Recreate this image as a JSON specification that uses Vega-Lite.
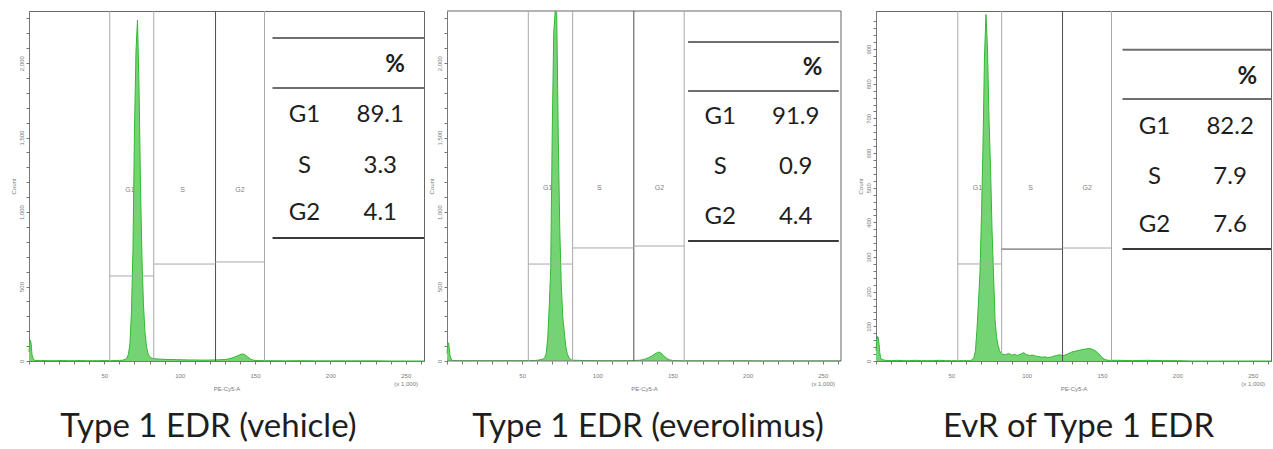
{
  "$schema": "https://vega.github.io/schema/vega-lite/v6.json",
  "autosize": {"type": "pad"},
  "padding": {"left": 9, "top": 9, "right": 0, "bottom": 0},
  "background": "white",
  "spacing": 23,
  "bounds": "flush",
  "config": {
    "view": {"stroke": "#666666", "strokeWidth": 1},
    "axis": {
      "grid": false,
      "labelFont": "Liberation Sans",
      "labelFontSize": 6,
      "labelColor": "#7a7a7a",
      "titleFont": "Liberation Sans",
      "titleFontSize": 6,
      "titleFontWeight": "normal",
      "titleColor": "#7a7a7a",
      "tickColor": "#777777",
      "domainColor": "#777777",
      "tickSize": 3,
      "tickCount": 200,
      "labelFlush": false,
      "labelOverlap": false
    }
  },
  "datasets": {
    "h1": [
      {"x":0,"count":60},{"x":0.5,"count":130},{"x":1,"count":140},{"x":1.5,"count":110},{"x":2,"count":40},{"x":3,"count":10},{"x":4,"count":4},{"x":6,"count":3},{"x":8,"count":2},{"x":10,"count":3},{"x":14,"count":2},{"x":18,"count":2},{"x":22,"count":3},{"x":26,"count":2},{"x":30,"count":2},{"x":34,"count":3},{"x":38,"count":2},{"x":42,"count":2},{"x":46,"count":2},{"x":50,"count":3},{"x":54,"count":2},{"x":58,"count":3},{"x":60,"count":4},{"x":62,"count":5},{"x":63,"count":8},{"x":64,"count":12},{"x":65,"count":20},{"x":66,"count":45},{"x":67,"count":120},{"x":68,"count":330},{"x":69,"count":750},{"x":70,"count":1550},{"x":71,"count":2080},{"x":72,"count":2290},{"x":73,"count":1850},{"x":74,"count":1180},{"x":75,"count":680},{"x":76,"count":370},{"x":77,"count":190},{"x":78,"count":95},{"x":79,"count":50},{"x":80,"count":30},{"x":81,"count":22},{"x":82,"count":18},{"x":84,"count":15},{"x":86,"count":13},{"x":88,"count":12},{"x":90,"count":11},{"x":94,"count":10},{"x":98,"count":9},{"x":102,"count":8},{"x":106,"count":7},{"x":110,"count":7},{"x":114,"count":6},{"x":118,"count":6},{"x":122,"count":7},{"x":126,"count":8},{"x":130,"count":10},{"x":132,"count":13},{"x":134,"count":18},{"x":136,"count":25},{"x":138,"count":33},{"x":140,"count":42},{"x":141,"count":46},{"x":142,"count":47},{"x":143,"count":44},{"x":144,"count":37},{"x":145,"count":28},{"x":146,"count":20},{"x":147,"count":13},{"x":148,"count":8},{"x":150,"count":4},{"x":152,"count":3},{"x":156,"count":2},{"x":160,"count":2},{"x":170,"count":1},{"x":180,"count":2},{"x":190,"count":1},{"x":200,"count":1},{"x":210,"count":1},{"x":220,"count":1},{"x":230,"count":1},{"x":240,"count":0},{"x":262,"count":0}
    ],
    "h2": [
      {"x":0,"count":50},{"x":0.5,"count":115},{"x":1,"count":122},{"x":1.5,"count":90},{"x":2,"count":35},{"x":3,"count":8},{"x":4,"count":3},{"x":8,"count":2},{"x":12,"count":2},{"x":16,"count":2},{"x":20,"count":2},{"x":24,"count":2},{"x":28,"count":2},{"x":32,"count":2},{"x":36,"count":2},{"x":40,"count":2},{"x":44,"count":2},{"x":48,"count":2},{"x":52,"count":2},{"x":56,"count":3},{"x":58,"count":3},{"x":60,"count":5},{"x":62,"count":8},{"x":64,"count":14},{"x":65,"count":22},{"x":66,"count":50},{"x":67,"count":150},{"x":68,"count":360},{"x":69,"count":620},{"x":70,"count":1520},{"x":71,"count":2200},{"x":72,"count":2350},{"x":73,"count":2340},{"x":74,"count":1530},{"x":75,"count":900},{"x":76,"count":520},{"x":77,"count":300},{"x":78,"count":200},{"x":79,"count":100},{"x":80,"count":50},{"x":81,"count":25},{"x":82,"count":12},{"x":83,"count":7},{"x":84,"count":5},{"x":88,"count":4},{"x":92,"count":3},{"x":96,"count":3},{"x":100,"count":2},{"x":105,"count":2},{"x":110,"count":2},{"x":115,"count":2},{"x":120,"count":2},{"x":124,"count":3},{"x":128,"count":5},{"x":130,"count":8},{"x":132,"count":14},{"x":134,"count":22},{"x":136,"count":32},{"x":138,"count":45},{"x":140,"count":57},{"x":141,"count":60},{"x":142,"count":56},{"x":143,"count":48},{"x":144,"count":38},{"x":145,"count":28},{"x":146,"count":20},{"x":147,"count":13},{"x":148,"count":8},{"x":150,"count":4},{"x":152,"count":2},{"x":156,"count":1},{"x":160,"count":1},{"x":170,"count":1},{"x":180,"count":1},{"x":190,"count":1},{"x":200,"count":1},{"x":210,"count":0},{"x":262,"count":0}
    ],
    "h3": [
      {"x":0,"count":30},{"x":0.5,"count":60},{"x":1,"count":71},{"x":1.5,"count":68},{"x":2,"count":50},{"x":2.5,"count":25},{"x":3,"count":10},{"x":4,"count":4},{"x":6,"count":2},{"x":10,"count":1},{"x":14,"count":2},{"x":18,"count":1},{"x":22,"count":1},{"x":26,"count":2},{"x":30,"count":1},{"x":34,"count":1},{"x":38,"count":1},{"x":42,"count":2},{"x":46,"count":1},{"x":50,"count":1},{"x":54,"count":1},{"x":58,"count":1},{"x":60,"count":1},{"x":62,"count":1},{"x":63,"count":2},{"x":64,"count":4},{"x":65,"count":10},{"x":66,"count":30},{"x":67,"count":90},{"x":68,"count":170},{"x":69,"count":255},{"x":70,"count":420},{"x":71,"count":620},{"x":72,"count":880},{"x":73,"count":1000},{"x":74,"count":900},{"x":75,"count":700},{"x":76,"count":560},{"x":77,"count":380},{"x":78,"count":250},{"x":79,"count":120},{"x":80,"count":70},{"x":81,"count":45},{"x":82,"count":30},{"x":83,"count":22},{"x":84,"count":20},{"x":86,"count":18},{"x":88,"count":22},{"x":90,"count":17},{"x":92,"count":19},{"x":94,"count":16},{"x":96,"count":20},{"x":98,"count":24},{"x":100,"count":18},{"x":102,"count":16},{"x":104,"count":17},{"x":106,"count":14},{"x":108,"count":13},{"x":110,"count":11},{"x":112,"count":12},{"x":114,"count":10},{"x":116,"count":11},{"x":118,"count":14},{"x":120,"count":16},{"x":122,"count":18},{"x":124,"count":15},{"x":126,"count":18},{"x":128,"count":22},{"x":130,"count":26},{"x":132,"count":28},{"x":134,"count":30},{"x":136,"count":32},{"x":138,"count":34},{"x":140,"count":35},{"x":142,"count":36},{"x":144,"count":33},{"x":146,"count":28},{"x":148,"count":20},{"x":150,"count":10},{"x":152,"count":4},{"x":154,"count":2},{"x":160,"count":2},{"x":170,"count":1},{"x":180,"count":2},{"x":190,"count":1},{"x":200,"count":1},{"x":210,"count":0},{"x":262,"count":0}
    ],
    "gv": [
      {"panel":1,"x":53.6,"tone":"light"},{"panel":1,"x":82.8,"tone":"light"},{"panel":1,"x":123.8,"tone":"dark"},{"panel":1,"x":156.3,"tone":"light"},
      {"panel":2,"x":54.1,"tone":"light"},{"panel":2,"x":83.6,"tone":"light"},{"panel":2,"x":124.3,"tone":"dark"},{"panel":2,"x":157.8,"tone":"light"},
      {"panel":3,"x":54.3,"tone":"light"},{"panel":3,"x":83.4,"tone":"light"},{"panel":3,"x":123.8,"tone":"dark"},{"panel":3,"x":156.3,"tone":"light"}
    ],
    "gh": [
      {"panel":1,"x":53.6,"x2":82.8,"y":571,"tone":"light"},{"panel":1,"x":82.8,"x2":123.8,"y":651,"tone":"light"},{"panel":1,"x":123.8,"x2":156.3,"y":665,"tone":"light"},
      {"panel":2,"x":54.1,"x2":83.6,"y":651,"tone":"light"},{"panel":2,"x":83.6,"x2":124.3,"y":759,"tone":"light"},{"panel":2,"x":124.3,"x2":157.8,"y":772,"tone":"light"},
      {"panel":3,"x":54.3,"x2":83.4,"y":280,"tone":"light"},{"panel":3,"x":83.4,"x2":123.8,"y":323,"tone":"dark"},{"panel":3,"x":123.8,"x2":156.3,"y":326,"tone":"light"}
    ],
    "gl": [
      {"panel":1,"x":67,"y":1148,"gate":"G1"},{"panel":1,"x":102,"y":1148,"gate":"S"},{"panel":1,"x":140,"y":1148,"gate":"G2"},
      {"panel":2,"x":67,"y":1162,"gate":"G1"},{"panel":2,"x":101.4,"y":1162,"gate":"S"},{"panel":2,"x":141.3,"y":1162,"gate":"G2"},
      {"panel":3,"x":67.3,"y":499,"gate":"G1"},{"panel":3,"x":102.6,"y":499,"gate":"S"},{"panel":3,"x":140.2,"y":499,"gate":"G2"}
    ],
    "tl": [
      {"panel":1,"x":161.6,"x2":262.144,"y":2169,"tone":"mid"},{"panel":1,"x":161.6,"x2":262.144,"y":1833,"tone":"mid"},{"panel":1,"x":161.6,"x2":262.144,"y":826,"tone":"bottom"},
      {"panel":2,"x":160.4,"x2":260.7,"y":2142,"tone":"mid"},{"panel":2,"x":160.4,"x2":260.7,"y":1813,"tone":"mid"},{"panel":2,"x":160.4,"x2":260.7,"y":806,"tone":"bottom"},
      {"panel":3,"x":163.6,"x2":262.144,"y":898,"tone":"mid"},{"panel":3,"x":163.6,"x2":262.144,"y":756,"tone":"mid"},{"panel":3,"x":163.6,"x2":262.144,"y":323,"tone":"bottom"}
    ],
    "tt": [
      {"panel":1,"role":"header","x":243,"y":1987,"text":"%"},
      {"panel":1,"role":"body","x":182.8,"y":1652,"text":"G1"},{"panel":1,"role":"body","x":233.1,"y":1652,"text":"89.1"},
      {"panel":1,"role":"body","x":182.8,"y":1309,"text":"S"},{"panel":1,"role":"body","x":233.1,"y":1309,"text":"3.3"},
      {"panel":1,"role":"body","x":182.8,"y":994,"text":"G2"},{"panel":1,"role":"body","x":233.1,"y":994,"text":"4.1"},
      {"panel":2,"role":"header","x":243.3,"y":1967,"text":"%"},
      {"panel":2,"role":"body","x":181.8,"y":1638,"text":"G1"},{"panel":2,"role":"body","x":232,"y":1638,"text":"91.9"},
      {"panel":2,"role":"body","x":181.8,"y":1303,"text":"S"},{"panel":2,"role":"body","x":232,"y":1303,"text":"0.9"},
      {"panel":2,"role":"body","x":181.8,"y":967,"text":"G2"},{"panel":2,"role":"body","x":232,"y":967,"text":"4.4"},
      {"panel":3,"role":"header","x":246.4,"y":820,"text":"%"},
      {"panel":3,"role":"body","x":184.8,"y":675,"text":"G1"},{"panel":3,"role":"body","x":235,"y":675,"text":"82.2"},
      {"panel":3,"role":"body","x":184.8,"y":531,"text":"S"},{"panel":3,"role":"body","x":235,"y":531,"text":"7.9"},
      {"panel":3,"role":"body","x":184.8,"y":392,"text":"G2"},{"panel":3,"role":"body","x":235,"y":392,"text":"7.6"}
    ]
  },
  "hconcat": [
    {
      "width": 395,
      "height": 350,
      "title": {"text": "Type 1 EDR (vehicle)", "orient": "bottom", "font": "Lato", "fontSize": 33, "fontWeight": "normal", "color": "#1e1e1e", "offset": 20, "dx": -18},
      "layer": [
        {
          "data": {"name": "h1"},
          "mark": {"type": "area", "color": "#74d474", "opacity": 1, "line": {"color": "#33b833", "strokeWidth": 1}},
          "encoding": {
            "x": {"field": "x", "type": "quantitative", "scale": {"domain": [0, 262.144], "nice": false, "zero": false},
              "axis": {"title": "PE-Cy5-A", "tickCount": 200, "values": [0,10,20,30,40,50,60,70,80,90,100,110,120,130,140,150,160,170,180,190,200,210,220,230,240,250,260],
                "labelExpr": "datum.value === 250 ? ['250', '(x 1,000)'] : (datum.value % 50 === 0 && datum.value > 0 ? datum.label : '')",
                "labelOverlap": false, "labelFlush": false, "labelPadding": 8, "titleY": 24}},
            "y": {"field": "count", "type": "quantitative", "scale": {"domain": [0, 2350], "nice": false},
              "axis": {"title": "Count", "tickCount": 200, "values": [0,100,200,300,400,500,600,700,800,900,1000,1100,1200,1300,1400,1500,1600,1700,1800,1900,2000,2100,2200,2300],
                "labelExpr": "datum.value % 500 === 0 ? format(datum.value, ',') : ''",
                "labelOverlap": false, "labelFlush": false, "labelAngle": 270, "labelPadding": 2, "titlePadding": 2}}
          }
        },
        {
          "data": {"name": "gv"},
          "transform": [{"filter": "datum.panel === 1"}],
          "mark": {"type": "rule", "strokeWidth": 1},
          "encoding": {
            "x": {"field": "x", "type": "quantitative"},
            "color": {"field": "tone", "type": "nominal", "scale": {"domain": ["light","dark","mid","bottom"], "range": ["#a9a9a9","#4f4f4f","#6e6e6e","#3a3a3a"]}, "legend": null}
          }
        },
        {
          "data": {"name": "gh"},
          "transform": [{"filter": "datum.panel === 1"}],
          "mark": {"type": "rule", "strokeWidth": 1},
          "encoding": {
            "x": {"field": "x", "type": "quantitative"},
            "x2": {"field": "x2"},
            "y": {"field": "y", "type": "quantitative"},
            "color": {"field": "tone", "type": "nominal", "scale": {"domain": ["light","dark","mid","bottom"], "range": ["#a9a9a9","#4f4f4f","#6e6e6e","#3a3a3a"]}, "legend": null}
          }
        },
        {
          "data": {"name": "gl"},
          "transform": [{"filter": "datum.panel === 1"}],
          "mark": {"type": "text", "font": "Liberation Sans", "fontSize": 7, "color": "#808080"},
          "encoding": {
            "x": {"field": "x", "type": "quantitative"},
            "y": {"field": "y", "type": "quantitative"},
            "text": {"field": "gate"}
          }
        },
        {
          "data": {"name": "tl"},
          "transform": [{"filter": "datum.panel === 1"}],
          "mark": {"type": "rule", "strokeWidth": 2},
          "encoding": {
            "x": {"field": "x", "type": "quantitative"},
            "x2": {"field": "x2"},
            "y": {"field": "y", "type": "quantitative"},
            "color": {"field": "tone", "type": "nominal", "scale": {"domain": ["light","dark","mid","bottom"], "range": ["#a9a9a9","#4f4f4f","#6e6e6e","#3a3a3a"]}, "legend": null}
          }
        },
        {
          "data": {"name": "tt"},
          "transform": [{"filter": "datum.panel === 1 && datum.role === 'body'"}],
          "mark": {"type": "text", "font": "Lato", "fontSize": 24, "color": "#1e1e1e", "align": "center", "baseline": "middle"},
          "encoding": {
            "x": {"field": "x", "type": "quantitative"},
            "y": {"field": "y", "type": "quantitative"},
            "text": {"field": "text"}
          }
        },
        {
          "data": {"name": "tt"},
          "transform": [{"filter": "datum.panel === 1 && datum.role === 'header'"}],
          "mark": {"type": "text", "font": "Lato", "fontSize": 24, "fontWeight": "bold", "color": "#1e1e1e", "align": "center", "baseline": "middle"},
          "encoding": {
            "x": {"field": "x", "type": "quantitative"},
            "y": {"field": "y", "type": "quantitative"},
            "text": {"field": "text"}
          }
        }
      ]
    },
    {
      "width": 406,
      "height": 350,
      "view": {"stroke": null},
      "title": {"text": "Type 1 EDR (everolimus)", "orient": "bottom", "font": "Lato", "fontSize": 33, "fontWeight": "normal", "color": "#1e1e1e", "offset": 20, "dx": -2},
      "layer": [
        {
          "data": {"name": "h2"},
          "mark": {"type": "area", "color": "#74d474", "opacity": 1, "line": {"color": "#33b833", "strokeWidth": 1}},
          "encoding": {
            "x": {"field": "x", "type": "quantitative", "scale": {"domain": [0, 270.13], "nice": false, "zero": false},
              "axis": {"title": "PE-Cy5-A", "domain": false, "tickCount": 200, "values": [0,10,20,30,40,50,60,70,80,90,100,110,120,130,140,150,160,170,180,190,200,210,220,230,240,250,260],
                "labelExpr": "datum.value === 250 ? ['250', '(x 1,000)'] : (datum.value % 50 === 0 && datum.value > 0 ? datum.label : '')",
                "labelOverlap": false, "labelFlush": false, "labelPadding": 8, "titleY": 24, "titleX": 197}},
            "y": {"field": "count", "type": "quantitative", "scale": {"domain": [0, 2350], "nice": false},
              "axis": {"title": "Count", "tickCount": 200, "values": [0,100,200,300,400,500,600,700,800,900,1000,1100,1200,1300,1400,1500,1600,1700,1800,1900,2000,2100,2200,2300],
                "labelExpr": "datum.value % 500 === 0 ? format(datum.value, ',') : ''",
                "labelOverlap": false, "labelFlush": false, "labelAngle": 270, "labelPadding": 2, "titlePadding": 2}}
          }
        },
        {
          "data": {"values": [{}]},
          "mark": {"type": "rule", "color": "#666666", "strokeWidth": 1},
          "encoding": {"x": {"datum": 0, "type": "quantitative"}, "x2": {"datum": 262.144}, "y": {"datum": 2350, "type": "quantitative"}}
        },
        {
          "data": {"values": [{}]},
          "mark": {"type": "rule", "color": "#777777", "strokeWidth": 1},
          "encoding": {"x": {"datum": 0, "type": "quantitative"}, "x2": {"datum": 262.144}, "y": {"datum": 0, "type": "quantitative"}}
        },
        {
          "data": {"values": [{}]},
          "mark": {"type": "rule", "color": "#666666", "strokeWidth": 1},
          "encoding": {"x": {"datum": 262.144, "type": "quantitative"}, "y": {"datum": 0, "type": "quantitative"}, "y2": {"datum": 2350}}
        },
        {
          "data": {"name": "gv"},
          "transform": [{"filter": "datum.panel === 2"}],
          "mark": {"type": "rule", "strokeWidth": 1},
          "encoding": {
            "x": {"field": "x", "type": "quantitative"},
            "color": {"field": "tone", "type": "nominal", "scale": {"domain": ["light","dark","mid","bottom"], "range": ["#a9a9a9","#4f4f4f","#6e6e6e","#3a3a3a"]}, "legend": null}
          }
        },
        {
          "data": {"name": "gh"},
          "transform": [{"filter": "datum.panel === 2"}],
          "mark": {"type": "rule", "strokeWidth": 1},
          "encoding": {
            "x": {"field": "x", "type": "quantitative"},
            "x2": {"field": "x2"},
            "y": {"field": "y", "type": "quantitative"},
            "color": {"field": "tone", "type": "nominal", "scale": {"domain": ["light","dark","mid","bottom"], "range": ["#a9a9a9","#4f4f4f","#6e6e6e","#3a3a3a"]}, "legend": null}
          }
        },
        {
          "data": {"name": "gl"},
          "transform": [{"filter": "datum.panel === 2"}],
          "mark": {"type": "text", "font": "Liberation Sans", "fontSize": 7, "color": "#808080"},
          "encoding": {
            "x": {"field": "x", "type": "quantitative"},
            "y": {"field": "y", "type": "quantitative"},
            "text": {"field": "gate"}
          }
        },
        {
          "data": {"name": "tl"},
          "transform": [{"filter": "datum.panel === 2"}],
          "mark": {"type": "rule", "strokeWidth": 2},
          "encoding": {
            "x": {"field": "x", "type": "quantitative"},
            "x2": {"field": "x2"},
            "y": {"field": "y", "type": "quantitative"},
            "color": {"field": "tone", "type": "nominal", "scale": {"domain": ["light","dark","mid","bottom"], "range": ["#a9a9a9","#4f4f4f","#6e6e6e","#3a3a3a"]}, "legend": null}
          }
        },
        {
          "data": {"name": "tt"},
          "transform": [{"filter": "datum.panel === 2 && datum.role === 'body'"}],
          "mark": {"type": "text", "font": "Lato", "fontSize": 24, "color": "#1e1e1e", "align": "center", "baseline": "middle"},
          "encoding": {
            "x": {"field": "x", "type": "quantitative"},
            "y": {"field": "y", "type": "quantitative"},
            "text": {"field": "text"}
          }
        },
        {
          "data": {"name": "tt"},
          "transform": [{"filter": "datum.panel === 2 && datum.role === 'header'"}],
          "mark": {"type": "text", "font": "Lato", "fontSize": 24, "fontWeight": "bold", "color": "#1e1e1e", "align": "center", "baseline": "middle"},
          "encoding": {
            "x": {"field": "x", "type": "quantitative"},
            "y": {"field": "y", "type": "quantitative"},
            "text": {"field": "text"}
          }
        }
      ]
    },
    {
      "width": 395,
      "height": 350,
      "title": {"text": "EvR of Type 1 EDR", "orient": "bottom", "font": "Lato", "fontSize": 33, "fontWeight": "normal", "color": "#1e1e1e", "offset": 20, "dx": 5},
      "layer": [
        {
          "data": {"name": "h3"},
          "mark": {"type": "area", "color": "#74d474", "opacity": 1, "line": {"color": "#33b833", "strokeWidth": 1}},
          "encoding": {
            "x": {"field": "x", "type": "quantitative", "scale": {"domain": [0, 262.144], "nice": false, "zero": false},
              "axis": {"title": "PE-Cy5-A", "tickCount": 200, "values": [0,10,20,30,40,50,60,70,80,90,100,110,120,130,140,150,160,170,180,190,200,210,220,230,240,250,260],
                "labelExpr": "datum.value === 250 ? ['250', '(x 1,000)'] : (datum.value % 50 === 0 && datum.value > 0 ? datum.label : '')",
                "labelOverlap": false, "labelFlush": false, "labelPadding": 8, "titleY": 24}},
            "y": {"field": "count", "type": "quantitative", "scale": {"domain": [0, 1010], "nice": false},
              "axis": {"title": "Count", "tickCount": 200, "values": [0,20,40,60,80,100,120,140,160,180,200,220,240,260,280,300,320,340,360,380,400,420,440,460,480,500,520,540,560,580,600,620,640,660,680,700,720,740,760,780,800,820,840,860,880,900,920,940,960,980],
                "labelExpr": "datum.value % 100 === 0 ? datum.label : ''",
                "labelOverlap": false, "labelFlush": false, "labelAngle": 270, "labelPadding": 2, "titlePadding": 2}}
          }
        },
        {
          "data": {"name": "gv"},
          "transform": [{"filter": "datum.panel === 3"}],
          "mark": {"type": "rule", "strokeWidth": 1},
          "encoding": {
            "x": {"field": "x", "type": "quantitative"},
            "color": {"field": "tone", "type": "nominal", "scale": {"domain": ["light","dark","mid","bottom"], "range": ["#a9a9a9","#4f4f4f","#6e6e6e","#3a3a3a"]}, "legend": null}
          }
        },
        {
          "data": {"name": "gh"},
          "transform": [{"filter": "datum.panel === 3"}],
          "mark": {"type": "rule", "strokeWidth": 1},
          "encoding": {
            "x": {"field": "x", "type": "quantitative"},
            "x2": {"field": "x2"},
            "y": {"field": "y", "type": "quantitative"},
            "color": {"field": "tone", "type": "nominal", "scale": {"domain": ["light","dark","mid","bottom"], "range": ["#a9a9a9","#4f4f4f","#6e6e6e","#3a3a3a"]}, "legend": null}
          }
        },
        {
          "data": {"name": "gl"},
          "transform": [{"filter": "datum.panel === 3"}],
          "mark": {"type": "text", "font": "Liberation Sans", "fontSize": 7, "color": "#808080"},
          "encoding": {
            "x": {"field": "x", "type": "quantitative"},
            "y": {"field": "y", "type": "quantitative"},
            "text": {"field": "gate"}
          }
        },
        {
          "data": {"name": "tl"},
          "transform": [{"filter": "datum.panel === 3"}],
          "mark": {"type": "rule", "strokeWidth": 2},
          "encoding": {
            "x": {"field": "x", "type": "quantitative"},
            "x2": {"field": "x2"},
            "y": {"field": "y", "type": "quantitative"},
            "color": {"field": "tone", "type": "nominal", "scale": {"domain": ["light","dark","mid","bottom"], "range": ["#a9a9a9","#4f4f4f","#6e6e6e","#3a3a3a"]}, "legend": null}
          }
        },
        {
          "data": {"name": "tt"},
          "transform": [{"filter": "datum.panel === 3 && datum.role === 'body'"}],
          "mark": {"type": "text", "font": "Lato", "fontSize": 24, "color": "#1e1e1e", "align": "center", "baseline": "middle"},
          "encoding": {
            "x": {"field": "x", "type": "quantitative"},
            "y": {"field": "y", "type": "quantitative"},
            "text": {"field": "text"}
          }
        },
        {
          "data": {"name": "tt"},
          "transform": [{"filter": "datum.panel === 3 && datum.role === 'header'"}],
          "mark": {"type": "text", "font": "Lato", "fontSize": 24, "fontWeight": "bold", "color": "#1e1e1e", "align": "center", "baseline": "middle"},
          "encoding": {
            "x": {"field": "x", "type": "quantitative"},
            "y": {"field": "y", "type": "quantitative"},
            "text": {"field": "text"}
          }
        }
      ]
    }
  ]
}
